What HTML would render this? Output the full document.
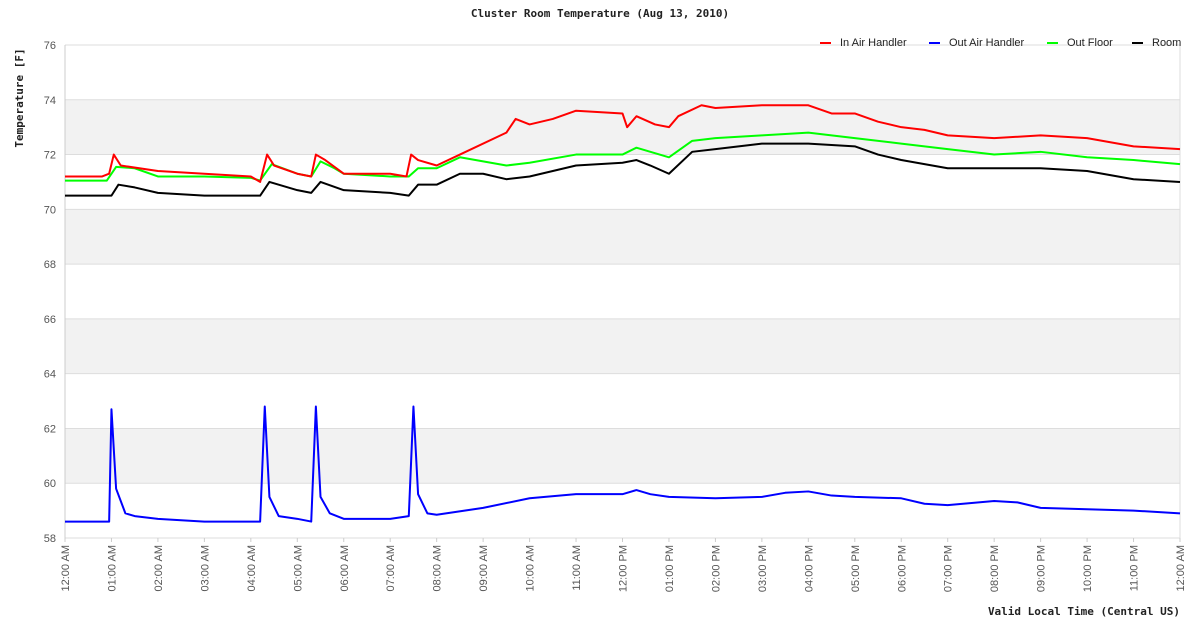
<!DOCTYPE html>
<html><head><meta charset="utf-8"><style>
body{margin:0;background:#fff;}
svg text{font-family:"Liberation Sans",sans-serif;}
.mono{font-family:"DejaVu Sans Mono","Liberation Mono",monospace;font-weight:bold;}
</style></head><body>
<svg id="chart" width="1200" height="628" xmlns="http://www.w3.org/2000/svg">
<text class="mono" x="600" y="17" font-size="11" text-anchor="middle" fill="#222">Cluster Room Temperature (Aug 13, 2010)</text>
<g id="grid"></g><g id="series"></g><g id="axes"></g>
<text class="mono" font-size="11" fill="#222" transform="translate(23,98) rotate(-90)" text-anchor="middle">Temperature [F]</text>
<text class="mono" x="1180" y="615" font-size="11" text-anchor="end" fill="#222">Valid Local Time (Central US)</text>
<g font-size="11" fill="#222">
<rect x="820" y="42" width="11" height="2" fill="#f00"/><text x="840" y="46">In Air Handler</text>
<rect x="929" y="42" width="11" height="2" fill="#00f"/><text x="949" y="46">Out Air Handler</text>
<rect x="1047" y="42" width="11" height="2" fill="#0f0"/><text x="1067" y="46">Out Floor</text>
<rect x="1132" y="42" width="11" height="2" fill="#000"/><text x="1152" y="46">Room</text>
</g>
</svg>
<script>
const yTicks=[58,60,62,64,66,68,70,72,74,76];
const xTickLabels=["12:00 AM","01:00 AM","02:00 AM","03:00 AM","04:00 AM","05:00 AM","06:00 AM","07:00 AM","08:00 AM","09:00 AM","10:00 AM","11:00 AM","12:00 PM","01:00 PM","02:00 PM","03:00 PM","04:00 PM","05:00 PM","06:00 PM","07:00 PM","08:00 PM","09:00 PM","10:00 PM","11:00 PM","12:00 AM"];
const redT=[0,0.8,0.95,1.05,1.2,2,3,4,4.2,4.35,4.5,5,5.3,5.4,5.6,6,7,7.35,7.45,7.6,8,8.5,9.5,9.7,10,10.5,11,12,12.1,12.3,12.7,13,13.2,13.7,14,15,16,16.5,17,17.5,18,18.5,19,20,21,22,23,24];
const redV=[71.2,71.2,71.3,72.0,71.6,71.4,71.3,71.2,71.0,72.0,71.6,71.3,71.2,72.0,71.8,71.3,71.3,71.2,72.0,71.8,71.6,72.0,72.8,73.3,73.1,73.3,73.6,73.5,73.0,73.4,73.1,73.0,73.4,73.8,73.7,73.8,73.8,73.5,73.5,73.2,73.0,72.9,72.7,72.6,72.7,72.6,72.3,72.2];
const greenT=[0,0.9,1.1,1.5,2,3,4,4.2,4.45,5,5.3,5.5,5.8,6,7,7.4,7.6,8,8.5,9.5,10,11,12,12.3,12.6,13,13.5,14,15,16,17,18,19,20,21,22,23,24];
const greenV=[71.05,71.05,71.55,71.5,71.2,71.2,71.15,71.05,71.65,71.3,71.2,71.75,71.5,71.3,71.2,71.2,71.5,71.5,71.9,71.6,71.7,72.0,72.0,72.25,72.1,71.9,72.5,72.6,72.7,72.8,72.6,72.4,72.2,72.0,72.1,71.9,71.8,71.65];
const blackT=[0,1,1.15,1.5,2,3,4,4.2,4.4,5,5.3,5.5,6,7,7.4,7.6,8,8.5,9,9.5,10,11,12,12.3,12.6,13,13.5,14,15,16,17,17.5,18,19,20,21,22,23,24];
const blackV=[70.5,70.5,70.9,70.8,70.6,70.5,70.5,70.5,71.0,70.7,70.6,71.0,70.7,70.6,70.5,70.9,70.9,71.3,71.3,71.1,71.2,71.6,71.7,71.8,71.6,71.3,72.1,72.2,72.4,72.4,72.3,72.0,71.8,71.5,71.5,71.5,71.4,71.1,71.0];
const blueT=[0,0.95,1.0,1.1,1.3,1.5,2,3,4,4.2,4.3,4.4,4.6,5,5.3,5.4,5.5,5.7,6,7,7.4,7.5,7.6,7.8,8,9,10,11,12,12.3,12.6,13,14,15,15.5,16,16.5,17,18,18.5,19,20,20.5,21,22,23,24];
const blueV=[58.6,58.6,62.7,59.8,58.9,58.8,58.7,58.6,58.6,58.6,62.8,59.5,58.8,58.7,58.6,62.8,59.5,58.9,58.7,58.7,58.8,62.8,59.6,58.9,58.85,59.1,59.45,59.6,59.6,59.75,59.6,59.5,59.45,59.5,59.65,59.7,59.55,59.5,59.45,59.25,59.2,59.35,59.3,59.1,59.05,59.0,58.9];
const X0=65,X1=1180,Y0=538,Y1=45;
const xs=t=>X0+(X1-X0)*t/24, ys=v=>Y0-(Y0-Y1)*(v-58)/18;
const NS="http://www.w3.org/2000/svg";
function mk(tag,attrs,parent){const e=document.createElementNS(NS,tag);for(const k in attrs)e.setAttribute(k,attrs[k]);parent.appendChild(e);return e;}
const grid=document.getElementById('grid'),axes=document.getElementById('axes'),ser=document.getElementById('series');
for(let i=0;i<yTicks.length-1;i++){ if(i%2===1){const r=mk('rect',{x:X0,y:ys(yTicks[i+1]),width:X1-X0,height:ys(yTicks[i])-ys(yTicks[i+1]),fill:'#f2f2f2'},grid);

}}
yTicks.forEach(v=>{const l=mk('line',{x1:X0,x2:X1,y1:ys(v),y2:ys(v),stroke:'#ddd'},grid);


const t=mk('text',{x:X0-9,y:ys(v)+4,'text-anchor':'end','font-size':11,fill:'#555'},axes);t.textContent=v;

});
mk('line',{x1:X0,x2:X0,y1:Y1,y2:Y0,stroke:'#ccc'},grid);
mk('line',{x1:X1,x2:X1,y1:Y1,y2:Y0,stroke:'#ddd'},grid);
xTickLabels.forEach((s,i)=>{const x=xs(i);mk('line',{x1:x,x2:x,y1:Y0,y2:Y0+4,stroke:'#ccc'},axes);
const t=mk('text',{'font-size':11,fill:'#555','text-anchor':'end',transform:`translate(${x+4},${Y0+7}) rotate(-90)`},axes);t.textContent=s;

});
function line(T,V,color,name){const p=mk('polyline',{points:T.map((t,i)=>xs(t)+','+ys(V[i])).join(' '),fill:'none',stroke:color,'stroke-width':2,'stroke-linejoin':'round'},ser);

}
line(blueT,blueV,'#00f','out-air-handler-line');
line(blackT,blackV,'#000','room-line');
line(greenT,greenV,'#0f0','out-floor-line');
line(redT,redV,'#f00','in-air-handler-line');
</script>
</body></html>
